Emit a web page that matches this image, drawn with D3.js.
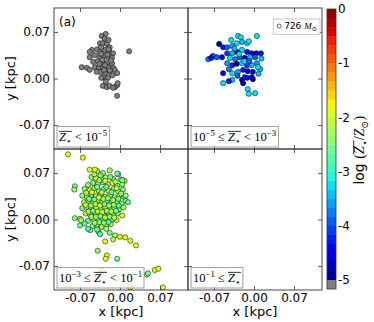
<!DOCTYPE html>
<html>
<head>
<meta charset="utf-8">
<script src="https://cdn.jsdelivr.net/npm/d3@7"></script>
<style>
  body { margin: 0; background: #fff; }
</style>
</head>
<body>
<script>
let w = 374;
let h = 322;

// star particles, x and y in kpc
// panel (a): metallicity below 1e-5, drawn grey
const starsA = [
  [-0.032, 0.064], [-0.025, 0.067], [-0.035, 0.053], [-0.030, 0.053], [-0.023, 0.052], [-0.018, 0.047],
  [-0.049, 0.043], [-0.040, 0.044], [-0.035, 0.040], [-0.026, 0.043], [-0.018, 0.040], [-0.012, 0.038],
  [-0.053, 0.032], [-0.044, 0.035], [-0.035, 0.032], [-0.028, 0.034], [-0.021, 0.032], [-0.014, 0.031],
  [-0.047, 0.025], [-0.039, 0.026], [-0.030, 0.025], [-0.023, 0.023], [-0.014, 0.023],
  [-0.044, 0.017], [-0.037, 0.016], [-0.030, 0.017], [-0.021, 0.017], [-0.012, 0.016],
  [-0.067, 0.017], [-0.058, 0.016], [-0.053, 0.013],
  [-0.035, 0.010], [-0.026, 0.008], [-0.018, 0.010], [-0.009, 0.013], [-0.005, 0.008],
  [-0.030, 0.002], [-0.021, 0.001], [-0.033, 0.001], [-0.025, -0.005],
  [-0.030, -0.011], [-0.023, -0.013], [-0.018, -0.011], [-0.009, -0.013], [-0.005, -0.010],
  [-0.004, -0.007], [-0.012, -0.014], [-0.005, -0.026], [0.016, 0.041], [-0.053, 0.040],
  [-0.027, 0.060], [-0.020, 0.058], [-0.033, 0.047], [-0.022, 0.036], [-0.031, 0.028],
  [-0.016, 0.027], [-0.026, 0.020], [-0.036, 0.022], [-0.018, 0.012], [-0.028, 0.013],
  [-0.041, 0.010], [-0.013, 0.005], [-0.033, 0.037], [-0.020, 0.044]
];

// panels (b)-(d): [x, y, log Z/Zsun]
const starsB = [
  [-0.028, 0.064, -3.2], [-0.023, 0.062, -3.3], [0.005, 0.064, -3.2],
  [-0.061, 0.052, -4.8], [-0.054, 0.047, -4.3], [-0.047, 0.047, -4.0], [-0.038, 0.049, -3.6],
  [-0.030, 0.053, -3.3], [-0.021, 0.055, -3.5], [-0.012, 0.053, -3.2], [-0.009, 0.056, -3.3],
  [-0.072, 0.034, -4.0], [-0.080, 0.029, -3.8], [-0.075, 0.031, -4.4], [-0.065, 0.032, -3.9],
  [-0.056, 0.032, -4.5], [-0.047, 0.038, -4.1], [-0.038, 0.038, -3.4], [-0.030, 0.040, -4.7],
  [-0.021, 0.043, -3.3], [-0.012, 0.040, -4.2], [-0.004, 0.038, -4.6], [0.004, 0.038, -4.8],
  [0.012, 0.038, -4.3], [-0.042, 0.031, -3.2], [-0.033, 0.029, -3.7], [-0.025, 0.032, -4.0],
  [-0.016, 0.031, -4.6], [-0.007, 0.032, -3.5], [0.002, 0.032, -3.9],
  [-0.047, 0.023, -3.6], [-0.038, 0.020, -4.2], [-0.030, 0.022, -4.9], [-0.021, 0.023, -3.3],
  [-0.012, 0.020, -4.1], [-0.004, 0.020, -3.4], [0.005, 0.023, -3.6],
  [-0.054, 0.008, -4.5], [-0.038, 0.008, -3.2], [-0.028, 0.010, -3.6], [-0.019, 0.013, -4.2],
  [-0.011, 0.011, -4.7], [-0.002, 0.010, -4.6], [0.011, 0.014, -3.5], [0.007, 0.017, -3.3],
  [-0.054, -0.007, -3.3], [-0.038, -0.002, -3.5], [-0.021, -0.002, -4.8], [-0.012, 0.001, -4.6],
  [-0.004, 0.002, -4.5], [-0.002, -0.001, -4.9], [-0.019, -0.007, -4.7], [-0.011, -0.016, -3.2],
  [-0.009, -0.023, -3.3], [0.002, -0.022, -3.2], [-0.016, 0.002, -4.3],
  [-0.040, 0.058, -3.3], [-0.034, 0.045, -3.5], [-0.026, 0.037, -3.2], [-0.017, 0.026, -3.3],
  [-0.044, 0.014, -3.8], [-0.008, 0.026, -4.0], [-0.029, 0.004, -3.9], [-0.044, -0.004, -4.2],
  [0.008, 0.007, -3.4], [0.013, 0.030, -3.4]
];

const starsC = [
  [-0.040, 0.073, -2.3], [-0.030, 0.070, -2.5], [-0.018, 0.074, -2.2], [-0.003, 0.068, -2.7],
  [-0.050, 0.064, -2.4], [-0.042, 0.062, -2.0], [-0.034, 0.066, -2.6], [-0.025, 0.063, -2.2],
  [-0.012, 0.061, -2.4], [0.002, 0.060, -2.8], [0.008, 0.058, -2.5],
  [-0.056, 0.052, -2.2], [-0.047, 0.055, -2.6], [-0.038, 0.054, -2.1], [-0.030, 0.056, -2.9],
  [-0.021, 0.053, -2.3], [-0.013, 0.055, -2.0], [-0.005, 0.051, -2.6], [0.004, 0.053, -2.3],
  [-0.062, 0.046, -2.4], [-0.053, 0.044, -2.1], [-0.045, 0.047, -2.5], [-0.037, 0.043, -2.2],
  [-0.028, 0.046, -2.7], [-0.020, 0.043, -2.0], [-0.011, 0.046, -2.4], [-0.003, 0.042, -2.2],
  [0.005, 0.045, -2.6],
  [-0.066, 0.036, -2.5], [-0.058, 0.034, -2.2], [-0.050, 0.037, -2.8], [-0.042, 0.035, -2.1],
  [-0.034, 0.038, -2.4], [-0.026, 0.034, -2.6], [-0.017, 0.037, -2.1], [-0.009, 0.033, -2.5],
  [-0.001, 0.036, -2.3], [0.007, 0.034, -2.7],
  [-0.063, 0.026, -2.3], [-0.055, 0.028, -2.6], [-0.047, 0.025, -2.0], [-0.039, 0.029, -2.3],
  [-0.031, 0.026, -2.5], [-0.023, 0.028, -2.2], [-0.015, 0.025, -2.8], [-0.006, 0.027, -2.1],
  [0.003, 0.024, -2.4], [0.010, 0.028, -2.5],
  [-0.066, 0.017, -2.6], [-0.058, 0.019, -2.1], [-0.050, 0.016, -2.4], [-0.042, 0.018, -1.7],
  [-0.034, 0.015, -2.6], [-0.026, 0.019, -2.2], [-0.018, 0.016, -2.4], [-0.010, 0.018, -2.0],
  [-0.002, 0.015, -2.6], [0.006, 0.018, -2.3],
  [-0.060, 0.009, -2.2], [-0.052, 0.007, -1.6], [-0.044, 0.010, -2.5], [-0.036, 0.008, -2.1],
  [-0.028, 0.006, -2.4], [-0.020, 0.010, -2.7], [-0.012, 0.007, -2.2], [-0.004, 0.009, -2.5],
  [0.004, 0.006, -2.0],
  [-0.070, 0.001, -2.4], [-0.056, -0.002, -2.6], [-0.046, 0.000, -2.3], [-0.038, -0.001, -2.0],
  [-0.030, 0.001, -2.6], [-0.022, -0.002, -2.3], [-0.014, 0.000, -2.5], [-0.006, -0.001, -2.1],
  [-0.062, -0.006, -2.7], [-0.048, -0.010, -2.4], [-0.040, -0.008, -2.8], [-0.032, -0.011, -2.2],
  [-0.024, -0.009, -2.5], [-0.016, -0.007, -2.3],
  [-0.052, -0.016, -2.5], [-0.038, -0.018, -2.6], [-0.035, -0.022, -2.7], [-0.024, -0.014, -2.2],
  [-0.045, 0.068, -2.2], [-0.036, 0.059, -2.5], [-0.026, 0.058, -2.1], [-0.017, 0.064, -2.6],
  [-0.008, 0.057, -2.3], [-0.059, 0.040, -2.3], [-0.049, 0.041, -2.0], [-0.040, 0.049, -2.6],
  [-0.032, 0.041, -2.2], [-0.024, 0.049, -2.4], [-0.015, 0.041, -2.7], [-0.006, 0.047, -2.1],
  [0.002, 0.039, -2.5], [-0.054, 0.031, -2.4], [-0.045, 0.030, -2.7], [-0.037, 0.033, -2.0],
  [-0.029, 0.031, -2.3], [-0.021, 0.032, -2.5], [-0.012, 0.029, -2.2], [-0.003, 0.031, -2.6],
  [-0.060, 0.022, -2.1], [-0.051, 0.021, -2.5], [-0.043, 0.023, -2.3], [-0.035, 0.021, -1.9],
  [-0.027, 0.023, -2.6], [-0.019, 0.021, -2.2], [-0.011, 0.022, -2.4], [-0.002, 0.021, -2.7],
  [-0.055, 0.012, -2.3], [-0.047, 0.013, -2.6], [-0.039, 0.012, -2.2], [-0.031, 0.011, -1.8],
  [-0.023, 0.013, -2.5], [-0.015, 0.012, -2.3], [-0.007, 0.013, -2.6],
  [-0.050, 0.004, -2.5], [-0.042, 0.004, -2.2], [-0.034, 0.005, -2.7], [-0.026, 0.003, -2.1],
  [-0.018, 0.004, -2.4], [-0.010, 0.003, -2.2],
  [-0.044, -0.005, -2.3], [-0.036, -0.004, -2.6], [-0.028, -0.005, -2.2], [-0.020, -0.004, -2.9],
  [-0.091, 0.098, -2.0], [-0.065, 0.093, -2.0], [-0.053, 0.075, -2.0], [-0.044, 0.075, -2.0],
  [-0.079, 0.050, -2.6], [-0.080, 0.045, -2.2], [-0.079, 0.002, -2.4], [-0.070, -0.009, -2.6],
  [-0.068, -0.001, -2.3], [-0.056, -0.014, -2.9], [-0.040, -0.015, -2.6],
  [-0.005, 0.069, -2.6], [0.004, 0.059, -2.5], [0.014, 0.026, -2.7], [0.010, 0.036, -2.5],
  [-0.018, -0.020, -2.6], [-0.009, -0.024, -2.2], [0.000, -0.026, -2.0], [0.009, -0.027, -2.0],
  [0.018, -0.032, -2.0], [0.028, -0.039, -2.0], [-0.026, -0.033, -2.0], [-0.012, -0.030, -2.1],
  [-0.039, -0.047, -2.4], [-0.023, -0.054, -2.0], [-0.025, -0.059, -2.0], [-0.005, -0.059, -2.6],
  [-0.032, -0.077, -2.0], [0.061, -0.076, -2.0], [0.067, -0.074, -2.0], [0.075, -0.102, -2.0],
  [0.047, -0.083, -2.1], [0.018, -0.102, -1.9], [0.014, -0.084, -2.3], [0.049, -0.081, -2.6]
];

const starsD = [];

// metallicity bins (log Z/Zsun), null = open end
const binLow = [null, -5, -3, -1];
const binHigh = [-5, -3, -1, null];

const xTicks = [-0.07, 0, 0.07];
const yTicks = [-0.07, 0, 0.07];
const cbarTicks = [0, -1, -2, -3, -4, -5];
const massLabel = "726";

// layout
let padL = 54;
let padT = 8;
let pw = 134;
let ph = 141;
let serif = "Liberation Serif, DejaVu Serif, serif";
let sans = "DejaVu Sans, sans-serif";

let svg = d3.select("body").append("svg").attr("width", w).attr("height", h);

let x = d3.scaleLinear().domain([-0.1155, 0.119]).range([0, pw]);
let y = d3.scaleLinear().domain([-0.106, 0.106]).range([ph, 0]);

//jet colour map, same segments as matplotlib
let jetR = d3.scaleLinear().domain([0, 0.35, 0.66, 0.89, 1]).range([0, 0, 1, 1, 0.5]).clamp(true);
let jetG = d3.scaleLinear().domain([0, 0.125, 0.375, 0.64, 0.91, 1]).range([0, 0, 1, 1, 0, 0]).clamp(true);
let jetB = d3.scaleLinear().domain([0, 0.11, 0.34, 0.65, 1]).range([0.5, 1, 1, 0, 0]).clamp(true);
function jet(t) {
  return d3.rgb(jetR(t) * 255, jetG(t) * 255, jetB(t) * 255).toString();
}

let zMin = -5;
let zMax = 0;
let nBands = 30;
let underColor = "#808080";

function zColor(z) {
  if (z < zMin) {
    return underColor;
  }
  let i = Math.min(nBands - 1, Math.floor((z - zMin) / (zMax - zMin) * nBands));
  return jet((i + 0.5) / nBands);
}

//text with math pieces; parts: {t, it, sup, sub, over, sans}
function mathText(sel, parts, size) {
  let t = sel.append("text").attr("font-family", serif).attr("font-size", size).attr("fill", "#000");
  let shift = 0;
  parts.forEach(function (p) {
    let target = p.sup ? -0.42 * size : p.sub ? 0.25 * size : 0;
    let span = t.append("tspan").attr("dy", target - shift).text(p.t);
    shift = target;
    if (p.sup || p.sub) span.attr("font-size", size * 0.7);
    if (p.it) span.attr("font-style", "italic");
    if (p.sans) span.attr("font-family", sans);
    if (p.over) span.classed("over", true);
  });
  //overline over the marked pieces
  let boxes = [];
  t.selectAll("tspan.over").each(function () {
    boxes.push(this.getBBox());
  });
  if (boxes.length) {
    let x0 = d3.min(boxes, function (b) { return b.x; });
    let x1 = d3.max(boxes, function (b) { return b.x + b.width; });
    let yTop = boxes[0].y + size * 0.12;
    sel.append("line")
      .attr("x1", x0).attr("x2", x1)
      .attr("y1", yTop).attr("y2", yTop)
      .attr("stroke", "#000").attr("stroke-width", 0.8);
  }
  return t;
}

function binParts(lo, hi) {
  let parts = [];
  if (lo !== null) {
    parts.push({ t: "10" }, { t: "\u2212" + Math.abs(lo), sup: true }, { t: " \u2264 " });
  }
  parts.push({ t: "Z", it: true, over: true }, { t: "\u22c6", sub: true, over: true });
  if (hi !== null) {
    parts.push({ t: " < 10" }, { t: "\u2212" + Math.abs(hi), sup: true });
  }
  return parts;
}

let panels = [
  { data: starsA, col: 0, row: 0 },
  { data: starsB, col: 1, row: 0 },
  { data: starsC, col: 0, row: 1 },
  { data: starsD, col: 1, row: 1 },
];

let fmt = function (d) {
  return d.toFixed(2);
};

panels.forEach(function (p, k) {
  let g = svg.append("g")
    .attr("transform", "translate(" + (padL + p.col * pw) + "," + (padT + p.row * ph) + ")");

  //clip the stars to the panel
  g.append("clipPath").attr("id", "clip" + k)
    .append("rect").attr("width", pw).attr("height", ph);

  //add dots
  g.append("g").attr("clip-path", "url(#clip" + k + ")")
    .selectAll("circle")
    .data(p.data)
    .enter()
    .append("circle")
    .attr("cx", function (d) { return x(d[0]); })
    .attr("cy", function (d) { return y(d[1]); })
    .attr("r", 2.6)
    .attr("fill", function (d) { return d.length > 2 ? zColor(d[2]) : underColor; })
    .attr("stroke", "#000")
    .attr("stroke-width", 0.5);

  //axes, ticks inside on all sides
  let bottomAx = d3.axisBottom(x).tickValues(xTicks).tickSize(-4).tickPadding(3).tickFormat(fmt);
  let leftAx = d3.axisLeft(y).tickValues(yTicks).tickSize(-4).tickPadding(4).tickFormat(fmt);
  let topAx = d3.axisTop(x).tickValues(xTicks).tickSize(-4).tickFormat("");
  let rightAx = d3.axisRight(y).tickValues(yTicks).tickSize(-4).tickFormat("");

  let axB = g.append("g").attr("transform", "translate(0," + ph + ")").call(bottomAx);
  let axL = g.append("g").call(leftAx);
  let axT = g.append("g").call(topAx);
  let axR = g.append("g").attr("transform", "translate(" + pw + ",0)").call(rightAx);
  [axB, axL, axT, axR].forEach(function (a) {
    a.select(".domain").remove();
    a.selectAll("line").attr("stroke", "#333").attr("stroke-width", 0.8);
    a.selectAll("text").attr("font-family", sans).attr("font-size", 12).attr("fill", "#000");
  });
  if (p.row === 0) axB.selectAll("text").remove();
  if (p.col === 1) axL.selectAll("text").remove();

  //frame
  g.append("rect").attr("width", pw).attr("height", ph)
    .attr("fill", "none").attr("stroke", "#333").attr("stroke-width", 0.9);

  //metallicity bin legend, lower left
  let lg = g.append("g");
  let box = lg.append("rect").attr("fill", "#fff").attr("fill-opacity", 0.8)
    .attr("stroke", "#888").attr("stroke-width", 0.8);
  let tg = lg.append("g");
  let txt = mathText(tg, binParts(binLow[k], binHigh[k]), 12.5);
  let bb = txt.node().getBBox();
  let padX = 2;
  let padY = 1;
  box.attr("x", bb.x - padX).attr("y", bb.y - padY)
    .attr("width", bb.width + 2 * padX).attr("height", bb.height + 2 * padY);
  lg.attr("transform", "translate(" + (3 - (bb.x - padX)) + "," + (ph - 2 - (bb.y + bb.height + padY)) + ")");

  //axis titles
  if (p.col === 0) {
    svg.append("text")
      .attr("transform", "translate(15," + (padT + p.row * ph + ph / 2) + ") rotate(-90)")
      .attr("text-anchor", "middle")
      .attr("font-family", sans).attr("font-size", 13)
      .text("y [kpc]");
  }
  if (p.row === 1) {
    svg.append("text")
      .attr("x", padL + p.col * pw + pw / 2)
      .attr("y", 316)
      .attr("text-anchor", "middle")
      .attr("font-family", sans).attr("font-size", 13)
      .text("x [kpc]");
  }

  //panel tag and mass legend
  if (k === 0) {
    g.append("text").attr("x", 5).attr("y", 18)
      .attr("font-family", sans).attr("font-size", 12)
      .text("(a)");
  }
  if (k === 1) {
    let mg = g.append("g");
    let mbox = mg.append("rect").attr("fill", "#fff")
      .attr("stroke", "#bbb").attr("stroke-width", 0.8);
    mg.append("circle").attr("cx", 0).attr("cy", -3).attr("r", 2)
      .attr("fill", "#fff").attr("stroke", "#000").attr("stroke-width", 0.6);
    let mt = mathText(mg, [
      { t: massLabel + " ", sans: true },
      { t: "M", it: true },
      { t: "\u2299", sub: true }
    ], 9);
    mt.attr("x", 5);
    let mb = mg.node().getBBox();
    mbox.attr("x", mb.x - 4).attr("y", mb.y - 2).attr("width", mb.width + 7).attr("height", mb.height + 4);
    mg.attr("transform", "translate(" + (pw - 2 - (mb.x + mb.width + 3)) + "," + (11 - (mb.y - 2)) + ")");
  }
});

//colorbar
let cx = 327;
let cw = 9;
let cbY = d3.scaleLinear().domain([zMin, zMax]).range([padT + 272, padT + 1]);
let bands = d3.range(nBands);
svg.append("g").selectAll("rect")
  .data(bands)
  .enter()
  .append("rect")
  .attr("x", cx)
  .attr("width", cw)
  .attr("y", function (i) { return cbY(zMin + (i + 1) * (zMax - zMin) / nBands); })
  .attr("height", function (i) { return cbY(zMin + i * (zMax - zMin) / nBands) - cbY(zMin + (i + 1) * (zMax - zMin) / nBands) + 0.3; })
  .attr("fill", function (i) { return jet((i + 0.5) / nBands); });

//grey box for values below the range
svg.append("rect").attr("x", cx).attr("width", cw)
  .attr("y", cbY(zMin)).attr("height", 9)
  .attr("fill", underColor);
svg.append("rect").attr("x", cx).attr("width", cw)
  .attr("y", cbY(zMax)).attr("height", cbY(zMin) + 9 - cbY(zMax))
  .attr("fill", "none").attr("stroke", "#333").attr("stroke-width", 0.8);

svg.append("g").selectAll("text")
  .data(cbarTicks)
  .enter()
  .append("text")
  .attr("x", cx + cw + 2)
  .attr("y", function (d) { return cbY(d); })
  .attr("dy", "0.35em")
  .attr("font-family", sans).attr("font-size", 12)
  .text(function (d) { return String(d); });

//colorbar title
let cl = svg.append("g").attr("transform", "translate(364,150) rotate(-90)");
let clt = mathText(cl, [
  { t: "log ", sans: true },
  { t: "(" },
  { t: "Z", it: true, over: true },
  { t: "\u22c6", sub: true, over: true },
  { t: "/" },
  { t: "Z", it: true },
  { t: "\u2299", sub: true },
  { t: ")" }
], 14);
let cb = clt.node().getBBox();
cl.attr("transform", "translate(364," + (150 + cb.width / 2) + ") rotate(-90)");
</script>
</body>
</html>
